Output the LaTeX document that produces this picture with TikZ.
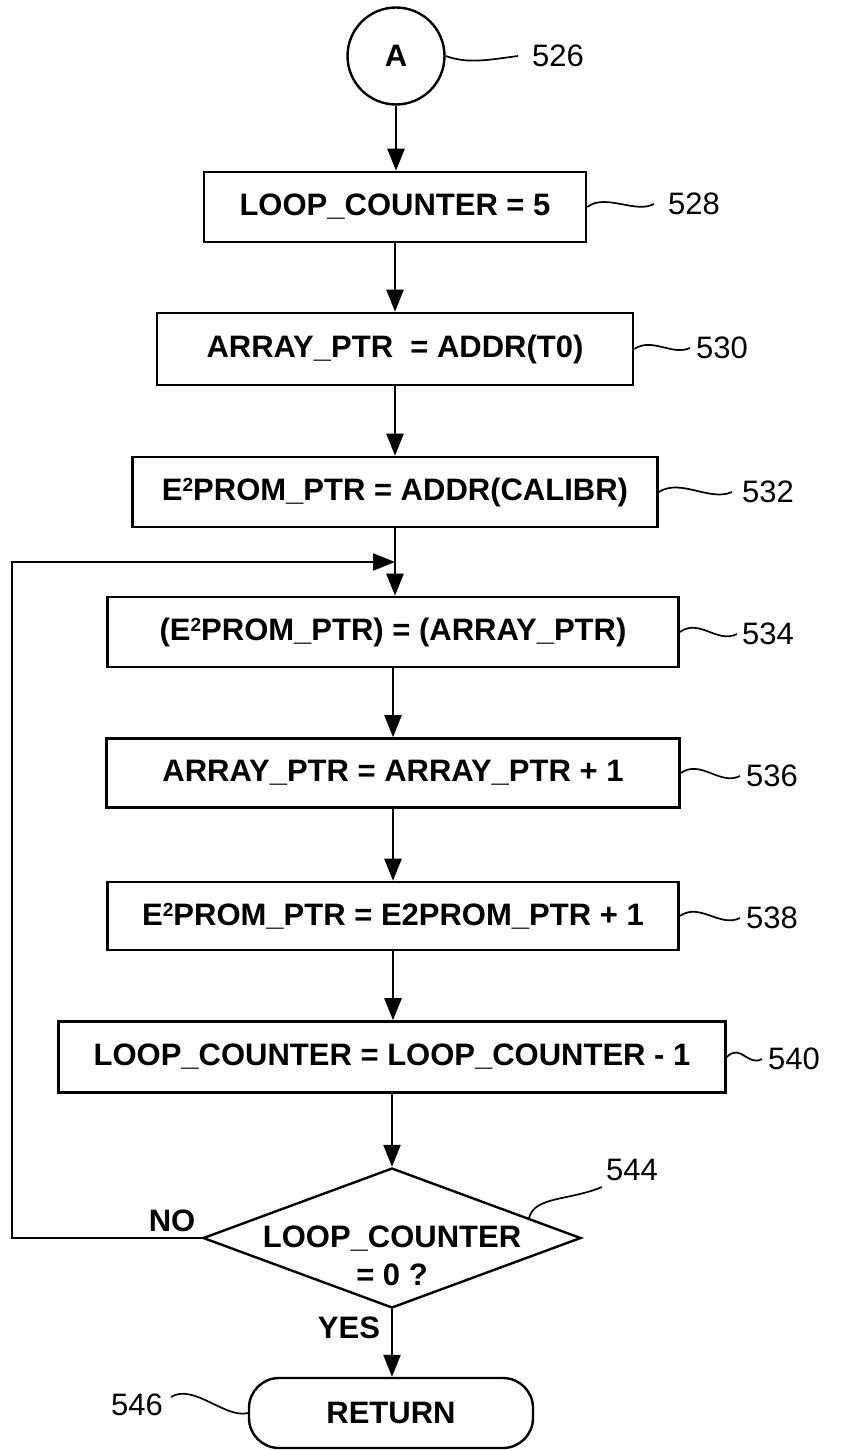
\documentclass[tikz,border=0pt]{standalone}
\usepackage{fontspec}
\setmainfont{Liberation Sans}
\usetikzlibrary{arrows.meta,shapes.geometric,calc}
\newcommand{\Esq}{E\raisebox{8.5pt}{\fontsize{19}{19}\selectfont 2}}
\begin{document}
\begin{tikzpicture}[x=1pt,y=-1pt,
  bigfont/.style={font=\fontsize{31}{36}\selectfont\bfseries},
  numfont/.style={font=\fontsize{31}{36}\selectfont},
  stepbox/.style={draw,line width=2.6pt,rectangle,minimum height=70pt,inner sep=0pt,bigfont},
  connector/.style={draw,line width=2.4pt,circle,minimum size=97pt,inner sep=0pt,bigfont},
  decision/.style={draw,line width=2.4pt,diamond,minimum width=378pt,minimum height=140pt,inner sep=0pt},
  terminal/.style={draw,line width=2.4pt,rectangle,rounded corners=30pt,minimum width=284pt,minimum height=70pt,inner sep=0pt,bigfont},
  arr/.style={line width=2.4pt,-{Triangle[length=22pt,width=17pt]}},
  leader/.style={line width=1.7pt},
  refnum/.style={numfont,inner sep=0pt}
]
\useasboundingbox (0,0) rectangle (848,1450);

% nodes
\node[connector] (A) at (396,56) {A};
\node[stepbox,minimum width=382pt] (b528) at (395,207) {LOOP\_COUNTER = 5};
\node[stepbox,minimum width=476pt,minimum height=72pt] (b530) at (395,349) {ARRAY\_PTR\ \ = ADDR(T0)};
\node[stepbox,minimum width=525pt] (b532) at (395,492) {\Esq PROM\_PTR = ADDR(CALIBR)};
\node[stepbox,minimum width=571pt] (b534) at (393,632) {(\Esq PROM\_PTR) = (ARRAY\_PTR)};
\node[stepbox,minimum width=573pt,minimum height=69pt] (b536) at (393,773) {ARRAY\_PTR = ARRAY\_PTR + 1};
\node[stepbox,minimum width=571pt,minimum height=68pt] (b538) at (393,916) {\Esq PROM\_PTR = E2PROM\_PTR + 1};
\node[stepbox,minimum width=667pt,minimum height=71pt] (b540) at (392,1057) {LOOP\_COUNTER = LOOP\_COUNTER - 1};
\node[decision] (d) at (392,1238) {};
\node[bigfont,align=center,inner sep=0pt] (dtext) at (392,1256) {LOOP\_COUNTER\\[2pt]= 0 ?};
\node[terminal] (ret) at (391,1413) {RETURN};

% reference numerals
\node[refnum] (l526) at (558,56) {526};
\node[refnum] (l528) at (694,204) {528};
\node[refnum] (l530) at (722,348) {530};
\node[refnum] (l532) at (768,492) {532};
\node[refnum] (l534) at (768,634) {534};
\node[refnum] (l536) at (772,776) {536};
\node[refnum] (l538) at (772,918) {538};
\node[refnum] (l540) at (794,1059) {540};
\node[refnum] (l544) at (632,1170) {544};
\node[refnum] (l546) at (137,1405) {546};

% branch labels
\node[bigfont,inner sep=0pt] (no) at (172,1221) {NO};
\node[bigfont,inner sep=0pt] (yes) at (349,1328) {YES};

% flow
\draw[arr] (A.south) -- (A.south |- b528.north);
\draw[arr] (b528.south) -- (b528.south |- b530.north);
\draw[arr] (b530.south) -- (b530.south |- b532.north);
\draw[arr] (b532.south) -- (b532.south |- b534.north);
\draw[arr] (b534.south) -- (b534.south |- b536.north);
\draw[arr] (b536.south) -- (b536.south |- b538.north);
\draw[arr] (b538.south) -- (b538.south |- b540.north);
\draw[arr] (b540.south) -- (b540.south |- d.north);
\draw[arr] (d.south) -- (d.south |- ret.north);
\coordinate (lc) at (12,562);
\draw[arr] (d.west) -| (lc) -- (lc -| b532.south);

% leaders
\draw[leader] (A.east) .. controls +(22,8) and +(-30,4) .. ([xshift=-14pt]l526.west);
\draw[leader] (b528.east) .. controls +(18,-14) and +(-18,10) .. ([xshift=-14pt]l528.west);
\draw[leader] (b530.east) .. controls +(18,-12) and +(-18,8) .. ([xshift=-6pt]l530.west);
\draw[leader] (b532.east) .. controls +(22,-14) and +(-22,10) .. ([xshift=-10pt]l532.west);
\draw[leader] (b534.east) .. controls +(20,-14) and +(-20,10) .. ([xshift=-5pt]l534.west);
\draw[leader] (b536.east) .. controls +(20,-14) and +(-20,10) .. ([xshift=-6pt]l536.west);
\draw[leader] (b538.east) .. controls +(20,-14) and +(-20,10) .. ([xshift=-6pt]l538.west);
\draw[leader] (b540.east) .. controls +(14,-14) and +(-14,8) .. ([xshift=-6pt]l540.west);
\coordinate (e544) at ($(d.north)!0.72!(d.east)$);
\draw[leader] (e544) .. controls +(6,-22) and +(-34,14) .. ([xshift=-4pt,yshift=-6pt]l544.south west);
\draw[leader] ([xshift=8pt,yshift=8pt]l546.east) .. controls +(22,-14) and +(-22,6) .. (ret.west);
\end{tikzpicture}
\end{document}
